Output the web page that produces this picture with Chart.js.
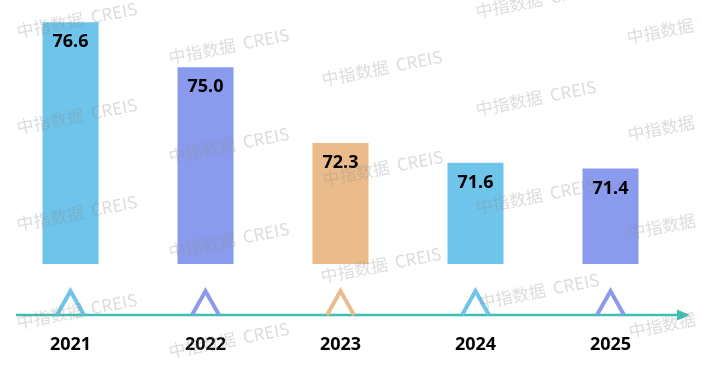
<!DOCTYPE html>
<html>
<head>
<meta charset="utf-8">
<script src="https://cdn.jsdelivr.net/npm/chart.js@4.4.1/dist/chart.umd.min.js"></script>
<style>
html,body{margin:0;padding:0;background:#fff;}
#wrap{width:702px;height:367px;position:relative;}
</style>
</head>
<body>
<div id="wrap"><canvas id="c"></canvas></div>
<script>
const categories = ['2021', '2022', '2023', '2024', '2025'];
const values = [76.6, 75.0, 72.3, 71.6, 71.4];
const barColors = ['#6EC4EA', '#8A9BEE', '#EBBC8B', '#6EC4EA', '#8A9BEE'];
const watermarkText = '中指数据  CREIS';
// watermark anchors [x, y]
const watermarks = [
  [18,38],[18,134],[18,231],[18,329],
  [170,64],[170,163],[170,258],[170,358],
  [323,86],[324,186],[322,283],
  [477,18],[477,116],[477,214],[480,309],
  [628,44],[629,141],[630,239],[630,338]
];

const labelFont = 'bold 18px "Noto Sans", "Open Sans", sans-serif';

const overlay = {
  id: 'overlay',
  afterDatasetsDraw(chart) {
    const ctx = chart.ctx;
    const xs = chart.scales.x;
    const meta = chart.getDatasetMeta(0);
    ctx.save();
    // value labels
    ctx.fillStyle = '#000';
    ctx.font = labelFont;
    ctx.textAlign = 'center';
    ctx.textBaseline = 'middle';
    meta.data.forEach((bar, i) => {
      ctx.fillText(values[i].toFixed(1), bar.x, bar.y + 20);
    });
    // axis line with arrow
    const lineY = 315;
    ctx.strokeStyle = '#3FBFB2';
    ctx.lineWidth = 2.5;
    ctx.beginPath();
    ctx.moveTo(16, lineY);
    ctx.lineTo(680, lineY);
    ctx.stroke();
    ctx.fillStyle = '#3FBFB2';
    ctx.beginPath();
    ctx.moveTo(690, lineY);
    ctx.lineTo(677, lineY - 5.5);
    ctx.lineTo(677, lineY + 5.5);
    ctx.closePath();
    ctx.fill();
    // triangles & year labels
    categories.forEach((c, i) => {
      const x = xs.getPixelForValue(i);
      ctx.strokeStyle = barColors[i];
      ctx.lineWidth = 4;
      ctx.lineJoin = 'miter';
      ctx.beginPath();
      ctx.moveTo(x - 13.5, lineY);
      ctx.lineTo(x, lineY - 24);
      ctx.lineTo(x + 13.5, lineY);
      ctx.stroke();
      ctx.fillStyle = '#000';
      ctx.font = labelFont;
      ctx.textAlign = 'center';
      ctx.textBaseline = 'middle';
      ctx.fillText(c, x, 345);
    });
    // watermarks
    ctx.font = '17px "Noto Sans CJK SC", sans-serif';
    ctx.fillStyle = 'rgba(140,140,140,0.3)';
    ctx.textAlign = 'left';
    ctx.textBaseline = 'alphabetic';
    watermarks.forEach(([wx, wy]) => {
      ctx.save();
      ctx.translate(wx, wy);
      ctx.rotate(-11 * Math.PI / 180);
      ctx.fillText(watermarkText, 0, 0);
      ctx.restore();
    });
    ctx.restore();
  }
};

new Chart(document.getElementById('c'), {
  type: 'bar',
  data: {
    labels: categories,
    datasets: [{
      data: values,
      backgroundColor: barColors,
      borderWidth: 0,
      barPercentage: 0.415,
      categoryPercentage: 1.0
    }]
  },
  options: {
    responsive: true,
    maintainAspectRatio: false,
    animation: false,
    layout: { padding: { top: 11, bottom: 103, left: 3, right: 24 } },
    plugins: { legend: { display: false }, tooltip: { enabled: false } },
    scales: {
      x: { display: false },
      y: { display: false, min: 68, max: 77 }
    }
  },
  plugins: [overlay]
});
</script>
</body>
</html>
